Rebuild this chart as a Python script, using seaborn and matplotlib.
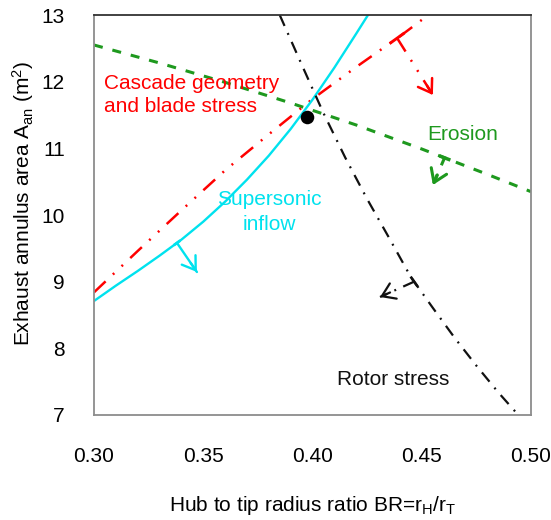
import numpy as np
import matplotlib
matplotlib.use("Agg")
import matplotlib.pyplot as plt
import seaborn as sns

# ---------------- data ----------------
br_erosion = [0.300, 0.330, 0.360, 0.390, 0.420, 0.450, 0.480, 0.500]
a_erosion = [12.55, 12.28, 11.99, 11.68, 11.35, 10.99, 10.61, 10.35]

br_cascade = [0.300, 0.320, 0.340, 0.360, 0.380, 0.400, 0.420, 0.440, 0.453]
a_cascade = [8.84, 9.46, 10.07, 10.67, 11.21, 11.74, 12.22, 12.68, 13.00]

br_supersonic = [0.300, 0.310, 0.320, 0.330, 0.340, 0.350, 0.360, 0.370,
                 0.380, 0.390, 0.400, 0.410, 0.420, 0.4254]
a_supersonic = [8.71, 8.94, 9.16, 9.39, 9.63, 9.90, 10.20, 10.53,
                10.89, 11.29, 11.73, 12.21, 12.72, 13.00]

br_rotor = [0.385, 0.395, 0.405, 0.415, 0.425, 0.435, 0.445, 0.455,
            0.465, 0.475, 0.485, 0.495, 0.498]
a_rotor = [13.00, 12.26, 11.53, 10.86, 10.24, 9.66, 9.07, 8.61,
           8.16, 7.74, 7.34, 6.97, 6.86]

design_br = [0.3975]
design_a = [11.47]

# arrows: (tail on the curve) -> (head)
arrow_cascade = [(0.4387, 12.655), (0.4551, 11.80)]
arrow_erosion = [(0.4606, 10.87), (0.4551, 10.45)]
arrow_supersonic = [(0.3380, 9.58), (0.3471, 9.145)]
arrow_rotor = [(0.4465, 9.00), (0.4309, 8.77)]

x_ticks = [0.30, 0.35, 0.40, 0.45, 0.50]
x_ticklabels = ["0.30", "0.35", "0.40", "0.45", "0.50"]
y_ticks = [7, 8, 9, 10, 11, 12, 13]

# ---------------- style ----------------
sns.set_theme(style="white")
plt.rcParams["font.family"] = ["Liberation Sans", "DejaVu Sans"]
plt.rcParams["mathtext.fontset"] = "custom"
plt.rcParams["mathtext.rm"] = "Liberation Sans"
plt.rcParams["mathtext.it"] = "Liberation Sans"
plt.rcParams["lines.scale_dashes"] = False

RED = "#FF0000"
GREEN = "#1E991E"
CYAN = "#00E2EE"
BLACK = "#111111"

ls_red = (0, (11.5, 7.2, 1.4, 7.2, 1.4, 7.2))
ls_green = (0, (6.5, 7.2))
ls_black = (0, (8.6, 5.6, 1.4, 5.6))

fig = plt.figure(figsize=(5.51, 5.20), dpi=100)
ax = fig.add_axes([94 / 551, 1 - 415 / 520, 437 / 551, 400 / 520])

sns.lineplot(x=br_erosion, y=a_erosion, ax=ax, color=GREEN, lw=2.2,
             linestyle=ls_green, sort=False, estimator=None)
sns.lineplot(x=br_cascade, y=a_cascade, ax=ax, color=RED, lw=1.8,
             linestyle=ls_red, sort=False, estimator=None)
sns.lineplot(x=br_supersonic, y=a_supersonic, ax=ax, color=CYAN, lw=1.7,
             sort=False, estimator=None)
sns.lineplot(x=br_rotor, y=a_rotor, ax=ax, color=BLACK, lw=1.6,
             linestyle=ls_black, sort=False, estimator=None)
sns.scatterplot(x=design_br, y=design_a, ax=ax, color="black", s=95,
                edgecolor="black", linewidth=0, zorder=5)

ax.set_xlim(0.30, 0.50)
ax.set_ylim(7, 13)


def draw_arrow(arrow, curve_x, curve_y, color, ls, lw, bar_dx):
    (tx, ty), (hx, hy) = arrow
    # short solid bar along the curve at the tail
    bx = np.array([tx - bar_dx, tx + bar_dx])
    by = np.interp(bx, curve_x, curve_y)
    ax.plot(bx, by, color=color, lw=lw + 0.3, solid_capstyle="butt")
    # stem in the curve's line style
    ax.plot([tx, hx], [ty, hy], color=color, lw=lw, linestyle=ls)
    # solid arrow head
    p_t = ax.transData.transform((tx, ty))
    p_h = ax.transData.transform((hx, hy))
    d = p_h - p_t
    d = d / np.hypot(*d)
    p_s = p_h - d * 11
    sx, sy = ax.transData.inverted().transform(p_s)
    ax.annotate("", xy=(hx, hy), xytext=(sx, sy),
                arrowprops=dict(arrowstyle="->,head_length=0.45,head_width=0.3",
                                color=color, lw=lw, shrinkA=0, shrinkB=0,
                                mutation_scale=20))


draw_arrow(arrow_cascade, br_cascade, a_cascade, RED, ls_red, 1.8, 0.0034)
draw_arrow(arrow_erosion, br_erosion, a_erosion, GREEN, ls_green, 2.2, 0.0025)
draw_arrow(arrow_supersonic, br_supersonic, a_supersonic, CYAN, "-", 1.7, 0.0015)
draw_arrow(arrow_rotor, br_rotor, a_rotor, BLACK, ls_black, 1.6, 0.0016)

# labels on the plot
ax.text(0.3046, 11.545, "Cascade geometry\nand blade stress", color=RED,
        fontsize=15, ha="left", va="baseline", linespacing=1.3)
ax.text(0.3801, 9.775, "Supersonic\ninflow", color=CYAN, fontsize=15,
        ha="center", va="baseline", multialignment="center", linespacing=1.42)
ax.text(0.4524, 11.125, "Erosion", color=GREEN, fontsize=15,
        ha="left", va="baseline")
ax.text(0.4112, 7.45, "Rotor stress", color=BLACK, fontsize=15,
        ha="left", va="baseline")

# axes
ax.set_xticks(x_ticks)
ax.set_xticklabels(x_ticklabels)
ax.set_yticks(y_ticks)
ax.tick_params(axis="x", length=0, pad=23, labelsize=15, labelcolor="black")
ax.tick_params(axis="y", length=0, pad=21, labelsize=15, labelcolor="black")

ax.set_xlabel(r"Hub to tip radius ratio BR=r$_{\mathregular{H}}$/r$_{\mathregular{T}}$",
              fontsize=15, color="black")
ax.set_ylabel(r"Exhaust annulus area A$_{\mathregular{an}}$ (m$^{\mathregular{2}}$)",
              fontsize=15, color="black")
ax.xaxis.set_label_coords(0.5, -0.198)
ax.yaxis.set_label_coords(-0.133, 0.53)

for name, sp in ax.spines.items():
    sp.set_visible(True)
    sp.set_color("#8c8c8c")
    sp.set_linewidth(1.3)
ax.spines["top"].set_color("#333333")

fig.savefig("out.png", dpi=100)
